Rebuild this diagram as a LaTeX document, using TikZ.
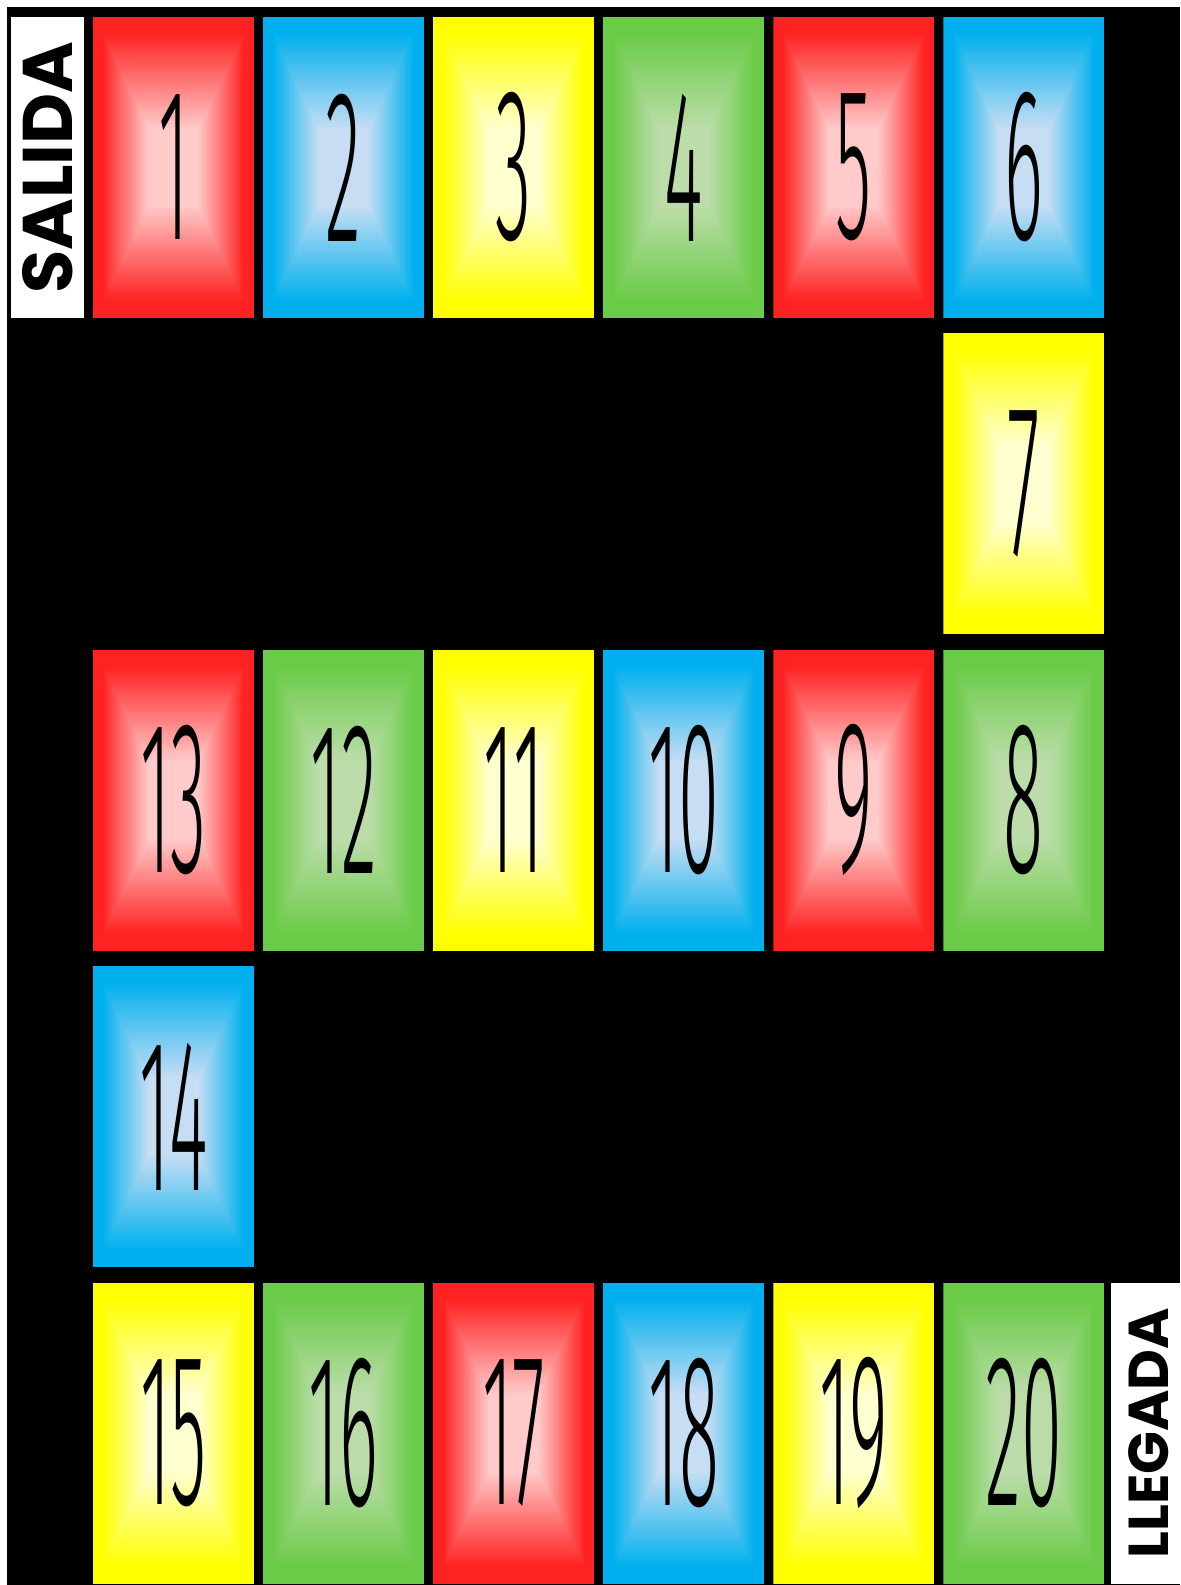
\documentclass[tikz,border=0pt]{standalone}
\usepackage{fontspec}
\usepackage{graphicx}
\usepackage{xcolor}
\usepackage{tikz}
\usetikzlibrary{positioning}

\newfontfamily\tilefont{Fira Sans Light}
\newfontfamily\labelfont{Poppins}

\definecolor{redout}{HTML}{FF2222}
\definecolor{redin}{HTML}{FFCACA}
\definecolor{blueout}{HTML}{00B0EE}
\definecolor{bluein}{HTML}{C6DDF3}
\definecolor{yellowout}{HTML}{FFFF00}
\definecolor{yellowin}{HTML}{FFFFD0}
\definecolor{greenout}{HTML}{6ACB46}
\definecolor{greenin}{HTML}{BCDDAA}

\newcommand{\tileshade}[1]{%
  \coordinate (pa) at (path picture bounding box.south west);
  \coordinate (pb) at (path picture bounding box.north east);
  \fill[#1out] (pa) rectangle (pb);
  \foreach \k in {1,...,30}{%
    \pgfmathtruncatemacro{\mix}{100*\k/30}%
    \pgfmathsetlengthmacro{\dx}{(0.18+0.92*\k/30)*1cm}%
    \pgfmathsetlengthmacro{\dy}{(0.3+1.9*\k/30)*1cm}%
    \fill[#1in!\mix!#1out] ([xshift=\dx,yshift=\dy]pa) rectangle ([xshift=-\dx,yshift=-\dy]pb);
  }}
\newcommand{\tilenum}[1]{\scalebox{0.34}[1]{#1}}

\begin{document}
\begin{tikzpicture}[
  x=0.02cm, y=-0.02cm,
  node distance=0.295cm and 0.168cm,
  tile/.style={minimum width=3.22cm, minimum height=6.02cm, inner sep=0pt,
               font=\tilefont\fontsize{124}{124}\selectfont,
               path picture={\tileshade{#1}}},
  redtile/.style={tile=red},
  bluetile/.style={tile=blue},
  yellowtile/.style={tile=yellow},
  greentile/.style={tile=green},
  endbox/.style={fill=white, inner sep=0pt, minimum height=6.02cm},
  endtext/.style={rotate=90, inner sep=0pt, font=\labelfont\bfseries\fontsize{#1}{#1}\selectfont},
]
\useasboundingbox (0,0) rectangle (1180,1585);
\fill[white] (0,0) rectangle (1180,1585);
\fill[black] (7,7) rectangle (1180,1585);

\node[redtile] (t1) at (173.5,167.5) {\tilenum{1}};
\node[bluetile, right=of t1] (t2) {\tilenum{2}};
\node[yellowtile, right=of t2] (t3) {\tilenum{3}};
\node[greentile, right=of t3] (t4) {\tilenum{4}};
\node[redtile, right=of t4] (t5) {\tilenum{5}};
\node[bluetile, right=of t5] (t6) {\tilenum{6}};

\node[yellowtile, below=of t6] (t7) {\tilenum{7}};

\node[greentile, below=of t7] (t8) {\tilenum{8}};
\node[redtile, left=of t8] (t9) {\tilenum{9}};
\node[bluetile, left=of t9] (t10) {\tilenum{10}};
\node[yellowtile, left=of t10] (t11) {\tilenum{11}};
\node[greentile, left=of t11] (t12) {\tilenum{12}};
\node[redtile, left=of t12] (t13) {\tilenum{13}};

\node[bluetile, below=of t13] (t14) {\tilenum{14}};

\node[yellowtile, below=of t14] (t15) {\tilenum{15}};
\node[greentile, right=of t15] (t16) {\tilenum{16}};
\node[redtile, right=of t16] (t17) {\tilenum{17}};
\node[bluetile, right=of t17] (t18) {\tilenum{18}};
\node[yellowtile, right=of t18] (t19) {\tilenum{19}};
\node[greentile, right=of t19] (t20) {\tilenum{20}};

\node[endbox, minimum width=1.46cm, left=0.16cm of t1] (start) {};
\node[endtext=40] (starttext) at (start) {SALIDA};
\node[endbox, minimum width=1.46cm, right=0.11cm of t20] (goal) {};
\node[endtext=32] (goaltext) at ([xshift=0.04cm]goal) {LLEGADA};
\end{tikzpicture}
\end{document}
